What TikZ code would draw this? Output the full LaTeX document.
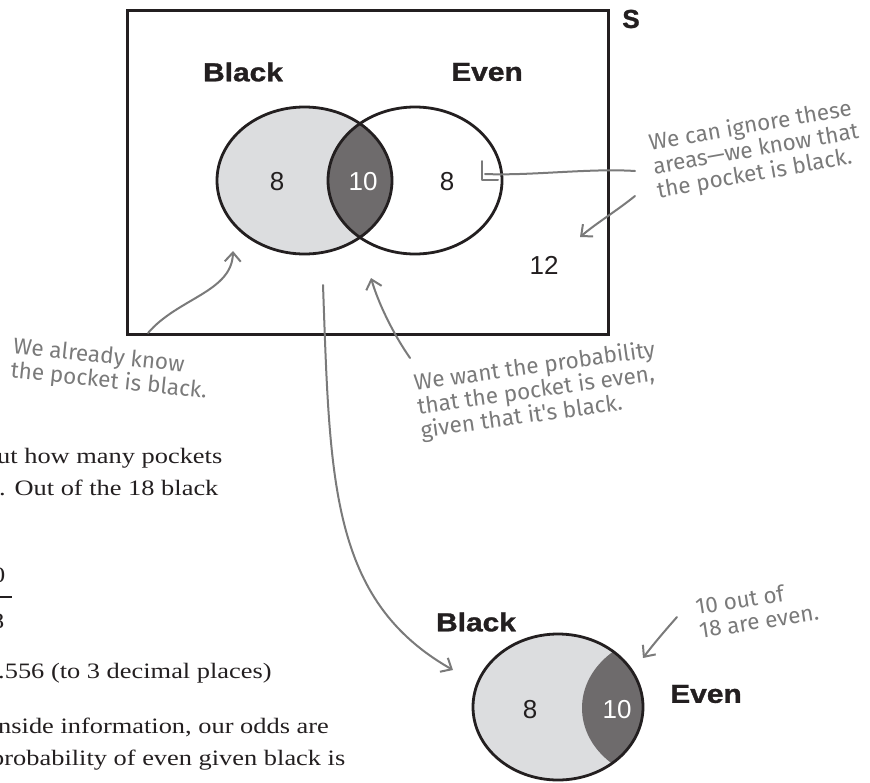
\documentclass[tikz,border=0pt]{standalone}
\usepackage{fontspec}
\setmainfont{Liberation Serif}
\newfontfamily\bodyfont{Liberation Serif}[FakeStretch=1.2]
\newfontfamily\heavy{Liberation Sans}[FakeBold=1.2]
\newfontfamily\numfont{Liberation Sans}
\newfontfamily\hand{Fira Sans}
\usetikzlibrary{arrows.meta}
\definecolor{annc}{HTML}{7A7A7A}
\definecolor{ink}{HTML}{231F20}
\definecolor{lightfill}{HTML}{DCDDDF}
\definecolor{darkfill}{HTML}{6E6B6C}
\tikzset{
  lbl/.style={font=\heavy\bfseries\fontsize{26}{28}\selectfont, text=ink, inner sep=0pt},
  num/.style={font=\numfont\fontsize{26}{28}\selectfont, text=ink, inner sep=0pt},
  wnum/.style={num, text=white},
  note/.style={font=\hand\fontsize{22.5}{24}\selectfont, text=annc, align=left, inner sep=0pt},
  body/.style={font=\bodyfont\fontsize{22}{26}\selectfont, text=ink, inner sep=0pt},
  annline/.style={draw=annc, line width=2pt, line cap=round, line join=round},
  annarrow/.style={annline, -{Straight Barb[length=9pt,width=16pt,line width=2pt]}},
  outline/.style={draw=ink, line width=2.8pt},
}
\begin{document}
\begin{tikzpicture}[x=1pt,y=-1pt]
\useasboundingbox (0,0) rectangle (870,782);
\clip (0,0) rectangle (870,782);
% sample space
\draw[outline, line width=3pt] (127,10) rectangle (608,334);
\node[lbl] (S) at (631,19) {S};
% top Venn diagram
\coordinate (LC) at (304.5,180.5);
\coordinate (RC) at (415,180.5);
\fill[lightfill] (LC) ellipse [x radius=87.5, y radius=73.5];
\begin{scope}
  \clip (LC) ellipse [x radius=87.5, y radius=73.5];
  \fill[darkfill] (RC) ellipse [x radius=87, y radius=73.5];
\end{scope}
\draw[outline] (LC) ellipse [x radius=87.5, y radius=73.5];
\draw[outline] (RC) ellipse [x radius=87, y radius=73.5];
\node[lbl] (black) at (243,72) {\scalebox{1.15}[1]{Black}};
\node[lbl] (even) at (487,72) {\scalebox{1.15}[1]{Even}};
\node[num] (n8a) at (277,182) {8};
\node[wnum] (n10) at (363,182) {10};
\node[num] (n8b) at (447,182) {8};
\node[num] (n12) at (544,265) {12};
% bottom Venn diagram
\coordinate (BC) at (558,707);
\coordinate (EC) at (669,708);
\fill[lightfill] (BC) ellipse [x radius=85, y radius=73];
\begin{scope}
  \clip (BC) ellipse [x radius=85, y radius=73];
  \fill[darkfill] (EC) ellipse [x radius=87, y radius=73.5];
\end{scope}
\draw[outline] (BC) ellipse [x radius=85, y radius=73];
\node[lbl] (black2) at (476,622) {\scalebox{1.15}[1]{Black}};
\node[lbl] (even2) at (706,694) {\scalebox{1.15}[1]{Even}};
\node[num] (m8) at (530,710) {8};
\node[wnum] (m10) at (617,710) {10};
% handwritten notes
\node[note, rotate=10] (ignore) at (756,150) {We can ignore these\\areas—we know that\\the pocket is black.};
\node[note, rotate=-6] (already) at (110,370) {We already know\\the pocket is black.};
\node[note, rotate=8] (want) at (538,391) {We want the probability\\that the pocket is even,\\given that it's black.};
\node[note, rotate=9] (ten) at (757,609) {10 out of\\18 are even.};
% note connectors
\coordinate (ig1) at (635,171);
\coordinate (ig2) at (635,196);
\coordinate (hook) at (485,174);
\coordinate (area12) at (580,237);
\coordinate (al1) at (148,333);
\coordinate (blackarea) at (233,251);
\coordinate (wa1) at (410,358);
\coordinate (inter) at (371,278);
\coordinate (lg1) at (323,285);
\coordinate (bottomblack) at (453,670);
\coordinate (te1) at (677,617);
\coordinate (evenarea) at (643,658);
\draw[annline] (ig1) .. controls (590,168) and (530,176) .. (hook);
\draw[annline] (482,161) -- (482,180) -- (498,180);
\draw[annarrow] (ig2) .. controls (615,212) and (598,222) .. (area12);
\draw[annarrow] (al1) .. controls (178,298) and (232,292) .. (blackarea);
\draw[annarrow] (wa1) .. controls (392,332) and (378,302) .. (inter);
\draw[annarrow] (lg1) .. controls (330,480) and (330,600) .. (bottomblack);
\draw[annarrow] (te1) .. controls (662,634) and (652,646) .. (evenarea);
% body text cut by the left edge
\node[body, anchor=base west] (t1) at (-3,463) {ut how many pockets};
\node[body, anchor=base west] (t2) at (-1,495) {. Out of the 18 black};
\node[body, anchor=base west] (t3) at (-8,582) {0};
\draw[ink, line width=1.6pt] (0,597) -- (12,597);
\node[body, anchor=base west] (t4) at (-9,628) {8};
\node[body, anchor=base west] (t5) at (-2,678) {.556 (to 3 decimal places)};
\node[body, anchor=base west] (t6) at (-2,733) {nside information, our odds are};
\node[body, anchor=base west] (t7) at (-9,765) {probability of even given black is};
\end{tikzpicture}
\end{document}
